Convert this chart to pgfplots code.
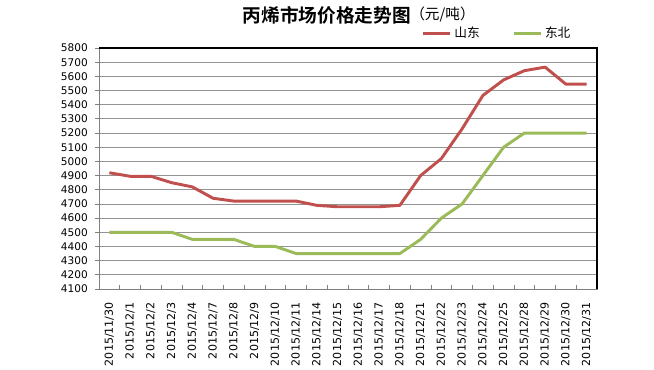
\documentclass[border=0pt]{standalone}
\usepackage{pgfplots}
\pgfplotsset{compat=1.18}
\usepackage{fontspec}
\setmainfont{DejaVu Sans}
\newfontfamily\cjk{Noto Sans CJK SC}
\newfontfamily\cjkb{Noto Sans CJK SC Bold}
\newlength\px \setlength\px{0.75pt}
\definecolor{sd}{HTML}{C0504D}
\definecolor{db}{HTML}{9BBB59}
\begin{document}
\begin{tikzpicture}
\path[use as bounding box] (0,0) rectangle (654\px,370\px);
\node[font=\fontsize{14}{16}\selectfont\cjkb, anchor=east, inner sep=0pt] at (411\px,355\px) {丙烯市场价格走势图};
\node[font=\fontsize{11}{12}\selectfont\cjk, anchor=west, inner sep=0pt] at (410\px,355\px) {（元/吨）};
\begin{axis}[at={(99\px,81\px)}, anchor=south west, width=498\px, height=241\px, scale only axis,
  xmin=-0.5, xmax=23.5, ymin=4100, ymax=5800,
  ytick={4100,4200,...,5800},
  ymajorgrids, grid style={draw=gray!85, line width=0.6pt},
  xtick={0,...,23},
  xticklabels={2015/11/30,2015/12/1,2015/12/2,2015/12/3,2015/12/4,2015/12/7,2015/12/8,2015/12/9,2015/12/10,2015/12/11,2015/12/14,2015/12/15,2015/12/16,2015/12/17,2015/12/18,2015/12/21,2015/12/22,2015/12/23,2015/12/24,2015/12/25,2015/12/28,2015/12/29,2015/12/30,2015/12/31},
  minor xtick={0.5,1.5,...,22.5},
  tick align=outside,
  major x tick style={draw=none},
  minor x tick style={draw=gray, line width=0.5pt, yshift=4\px},
  minor tick length=4\px,
  major tick length=4\px,
  y tick style={draw=gray, line width=0.6pt},
  xtick pos=bottom, ytick pos=left,
  axis line style={draw=gray, line width=0.7pt},
  /pgf/number format/assume math mode=true,
  /pgf/number format/set thousands separator={},
  yticklabel style={font=\fontsize{7.9}{9}\selectfont, anchor=east, inner sep=0pt, xshift=-7\px},
  xticklabel style={font=\fontsize{8.3}{9}\selectfont, yshift=-9\px, rotate=90, anchor=east, inner sep=0pt},
  legend style={at={(0.8,1.062)}, anchor=center, draw=none, fill=none, font=\fontsize{9.5}{11}\selectfont\cjk, legend columns=2, /tikz/every even column/.append style={column sep=30\px}},
  legend image code/.code={\draw[#1] (0pt,0pt) -- (27\px,0pt);},
  after end axis/.code={\draw[black, line width=0.8pt] (rel axis cs:0,1) -- (rel axis cs:1,1) -- (rel axis cs:1,0);},
]
\addplot[sd, line width=2.2pt, line join=round] coordinates {
(0,4920)(1,4895)(2,4895)(3,4850)(4,4820)(5,4740)(6,4720)(7,4720)(8,4720)(9,4720)(10,4690)(11,4680)(12,4680)(13,4680)(14,4690)(15,4900)(16,5020)(17,5230)(18,5465)(19,5575)(20,5640)(21,5665)(22,5545)(23,5545)};
\addlegendentry{山东}
\addplot[db, line width=2.2pt, line join=round] coordinates {
(0,4500)(1,4500)(2,4500)(3,4500)(4,4450)(5,4450)(6,4450)(7,4400)(8,4400)(9,4350)(10,4350)(11,4350)(12,4350)(13,4350)(14,4350)(15,4450)(16,4600)(17,4700)(18,4900)(19,5100)(20,5200)(21,5200)(22,5200)(23,5200)};
\addlegendentry{东北}
\end{axis}
\end{tikzpicture}
\end{document}
